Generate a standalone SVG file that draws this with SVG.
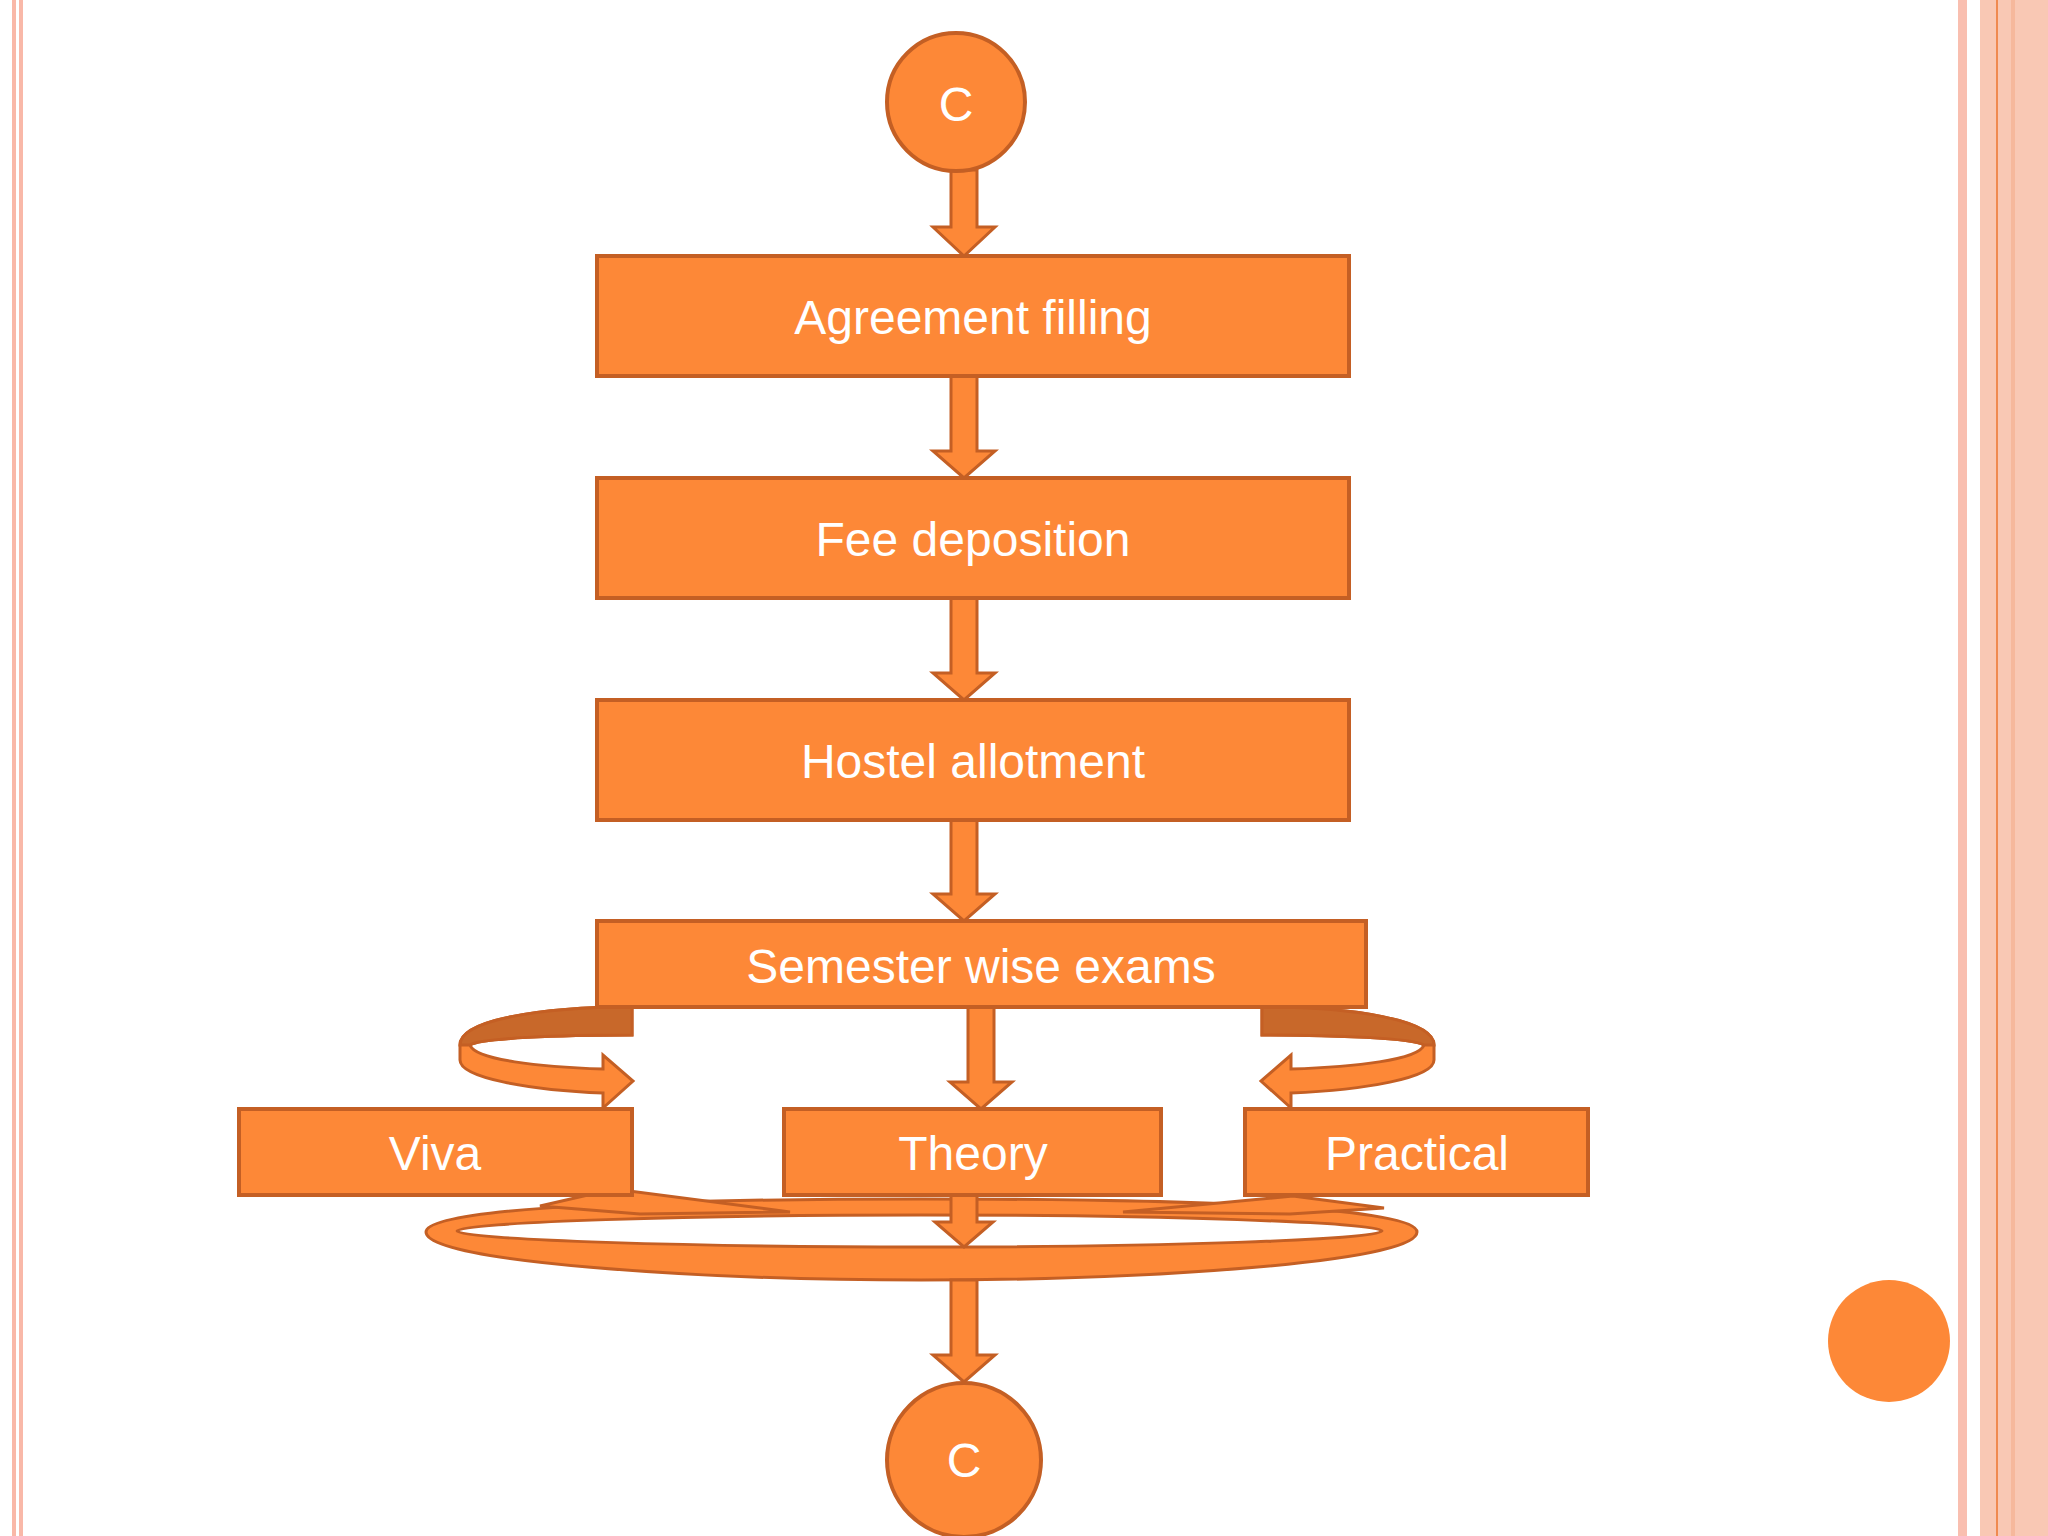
<svg xmlns="http://www.w3.org/2000/svg" width="2048" height="1536" viewBox="0 0 2048 1536">
<style>
.n{fill:#fd8837;stroke:#c45f24;stroke-width:4}
.t{font-family:"Liberation Sans",Arial,sans-serif;fill:#fff;text-anchor:middle;dominant-baseline:central;font-size:48px}
.a{fill:#fd8837;stroke:#c45f24;stroke-width:3;stroke-linejoin:miter}
.d{fill:#c8682a;stroke:#c45f24;stroke-width:3}
</style>
<defs>
<path id="arr" d="M-13,0 H13 V-0 z"/>
</defs>
<rect width="2048" height="1536" fill="#fff"/>
<g id="frame">
<rect x="12" y="0" width="4" height="1536" fill="#f9b8a8"/>
<rect x="19" y="0" width="4" height="1536" fill="#f9b8a8"/>
<rect x="1958" y="0" width="9" height="1536" fill="#f9bfb0"/>
<rect x="1980" y="0" width="68" height="1536" fill="#f9c8b4"/>
<rect x="1996" y="0" width="2" height="1536" fill="#f08a50"/>
<rect x="2011" y="0" width="4" height="1536" fill="#f6b89c"/>
<circle cx="1889" cy="1341" r="61" fill="#fd8837"/>
</g>
<g id="connectors">
<path class="a" d="M951,170 H977 V227 H995 L964,256 L933,227 H951 Z"/>
<path class="a" d="M951,376 H977 V451 H995 L964,478 L933,451 H951 Z"/>
<path class="a" d="M951,598 H977 V673 H995 L964,700 L933,673 H951 Z"/>
<path class="a" d="M951,820 H977 V894 H995 L964,921 L933,894 H951 Z"/>
<path class="a" d="M968,1007 H994 V1082 H1012 L981,1109 L950,1082 H968 Z"/>
<g id="loopL">
<path class="a" d="M632,1007 C540,1007 460,1020 460,1045 L460,1060 C460,1078 530,1090 603,1093 L603,1108 L633,1081 L603,1055 L603,1069 C540,1067 475,1060 470,1045 C480,1038 560,1035 632,1035 Z"/>
<path class="d" d="M632,1007 C540,1007 460,1020 460,1045 L470,1045 C480,1038 560,1035 632,1035 Z"/>
</g>
<use href="#loopL" transform="translate(1894,0) scale(-1,1)"/>
<path class="a" fill-rule="evenodd" d="M426,1232 C426,1205 700,1199 921,1199 C1150,1199 1417,1205 1417,1232 C1417,1262 1150,1280 921,1280 C700,1280 426,1262 426,1232 Z M457,1231 C457,1222 700,1215 921,1215 C1150,1215 1382,1222 1382,1231 C1382,1240 1150,1247 921,1247 C700,1247 457,1240 457,1231 Z"/>
<path class="a" d="M540,1206 L614,1189 L790,1212 L640,1214 Z"/>
<path class="a" d="M1123,1212 L1293,1196 L1384,1208 L1290,1214 Z"/>
<path class="a" d="M951,1195 H977 V1222 H993 L964,1247 L935,1222 H951 Z"/>
<path class="a" d="M951,1280 H977 V1355 H995 L964,1382 L933,1355 H951 Z"/>
</g>
<g id="c1"><circle class="n" cx="956" cy="102" r="69"/><text class="t" x="956" y="104">C</text></g>
<g id="agreement"><rect class="n" x="597" y="256" width="752" height="120"/><text class="t" x="973" y="317">Agreement filling</text></g>
<g id="fee"><rect class="n" x="597" y="478" width="752" height="120"/><text class="t" x="973" y="539">Fee deposition</text></g>
<g id="hostel"><rect class="n" x="597" y="700" width="752" height="120"/><text class="t" x="973" y="761">Hostel allotment</text></g>
<g id="semester"><rect class="n" x="597" y="921" width="769" height="86"/><text class="t" x="981" y="966">Semester wise exams</text></g>
<g id="viva"><rect class="n" x="239" y="1109" width="393" height="86"/><text class="t" x="435" y="1153">Viva</text></g>
<g id="theory"><rect class="n" x="784" y="1109" width="377" height="86"/><text class="t" x="973" y="1153">Theory</text></g>
<g id="practical"><rect class="n" x="1245" y="1109" width="343" height="86"/><text class="t" x="1417" y="1153">Practical</text></g>
<g id="c2"><circle class="n" cx="964" cy="1460" r="77"/><text class="t" x="964" y="1460">C</text></g>
</svg>
